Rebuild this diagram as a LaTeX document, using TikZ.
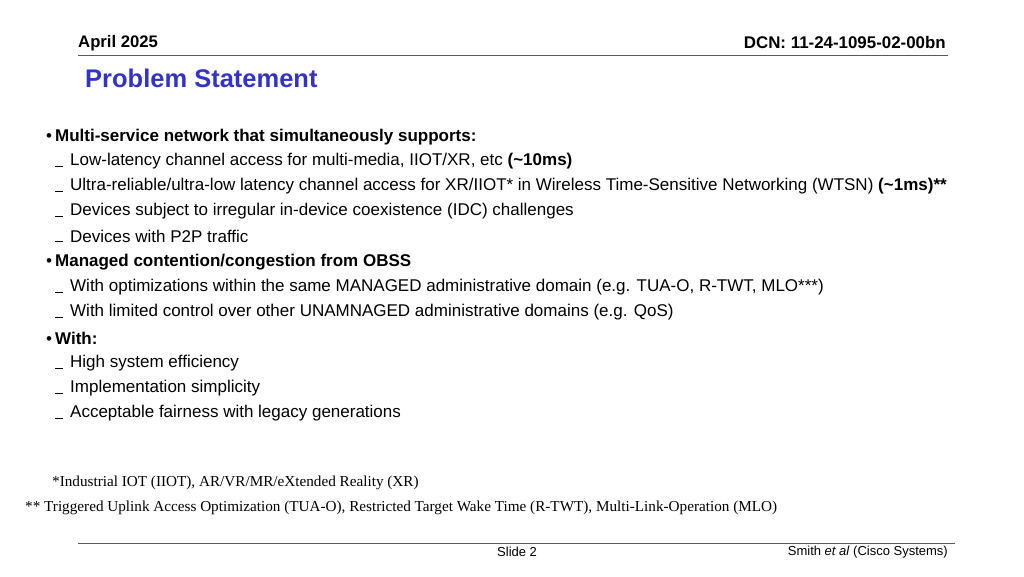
\documentclass[tikz,border=0pt]{standalone}
\usepackage{fontspec}
\setmainfont{Liberation Sans}
\newfontfamily\serifft{Liberation Serif}
\definecolor{titleblue}{HTML}{3333CC}
\tikzset{
 txt/.style={anchor=west,inner sep=0pt,font=\fontsize{17}{20}\selectfont},
 foot/.style={anchor=west,inner sep=0pt,font=\serifft\fontsize{15.2}{18}\selectfont},
 small/.style={inner sep=0pt,font=\fontsize{13}{15}\selectfont},
 rule/.style={line width=0.8pt,gray!70!black}
}
\newcommand{\subdash}[1]{\draw[line width=1pt] (55,#1+5) -- (63,#1+5);}
\begin{document}
\begin{tikzpicture}[x=1pt,y=-1pt]
\useasboundingbox (0,0) rectangle (1024,576);
\node[anchor=west,inner sep=0pt,font=\bfseries\fontsize{16.7}{20}\selectfont] (date) at (78,43) {April 2025};
\node[anchor=east,inner sep=0pt,font=\bfseries\fontsize{16.9}{20}\selectfont] (dcn) at (946,42) {DCN: 11-24-1095-02-00bn};
\draw[rule] (78,55) -- (948,55);
\node[anchor=west,inner sep=0pt,font=\bfseries\fontsize{25.5}{30}\selectfont,text=titleblue] (title) at (85,78) {Problem Statement};

\node[txt] (b1) at (46,137) {•\hspace{3pt}\textbf{Multi-service network that simultaneously supports:}};
\subdash{161}\node[txt] (s1) at (70,161) {Low-latency channel access for multi-media, IIOT/XR, etc \textbf{(\textasciitilde10ms)}};
\subdash{186}\node[txt] (s2) at (70,186) {Ultra-reliable/ultra-low latency channel access for XR/IIOT* in Wireless Time-Sensitive Networking (WTSN) \textbf{(\textasciitilde1ms)**}};
\subdash{211}\node[txt] (s3) at (70,211) {Devices subject to irregular in-device coexistence (IDC) challenges};
\subdash{236}\node[txt] (s4) at (70,236) {Devices with P2P traffic};
\node[txt] (b2) at (46,262) {•\hspace{3pt}\textbf{Managed contention/congestion from OBSS}};
\subdash{287}\node[txt] (s5) at (70,287) {With optimizations within the same MANAGED administrative domain (e.g. TUA-O, R-TWT, MLO***)};
\subdash{312}\node[txt] (s6) at (70,312) {With limited control over other UNAMNAGED administrative domains (e.g. QoS)};
\node[txt] (b3) at (46,338) {•\hspace{3pt}\textbf{With:}};
\subdash{363}\node[txt] (s7) at (70,363) {High system efficiency};
\subdash{388}\node[txt] (s8) at (70,388) {Implementation simplicity};
\subdash{413}\node[txt] (s9) at (70,413) {Acceptable fairness with legacy generations};

\node[foot] (f1) at (52,483) {*Industrial IOT (IIOT), AR/VR/MR/eXtended Reality (XR)};
\node[foot] (f2) at (25,508) {** Triggered Uplink Access Optimization (TUA-O), Restricted Target Wake Time (R-TWT), Multi-Link-Operation (MLO)};

\draw[rule] (78,543) -- (955,543);
\node[small,anchor=west] (slide) at (497,552) {Slide 2};
\node[small,anchor=east] (auth) at (948,552) {Smith \textit{et al} (Cisco Systems)};
\end{tikzpicture}
\end{document}
